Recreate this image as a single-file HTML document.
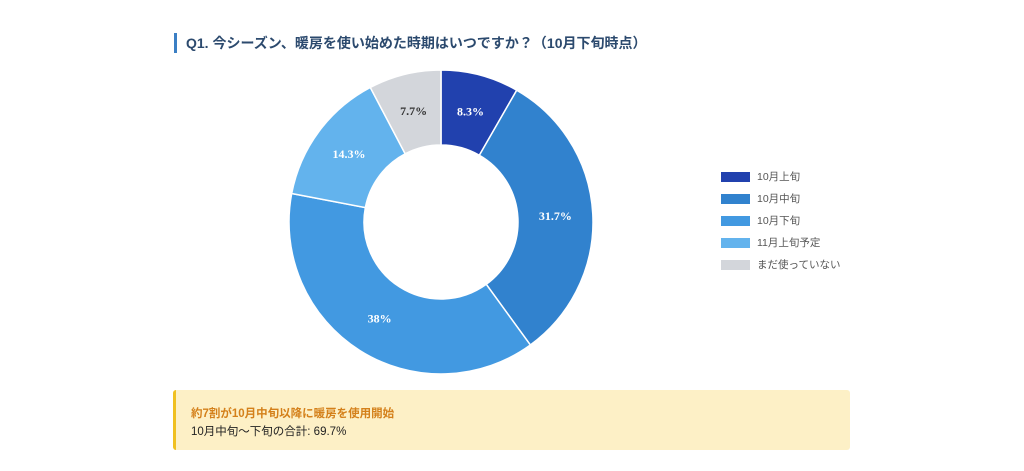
<!DOCTYPE html>
<html><head><meta charset="utf-8"><style>
body{margin:0;width:1024px;height:471px;background:#fff;font-family:"Liberation Sans","Noto Sans CJK JP",sans-serif;position:relative;overflow:hidden}
#title{position:absolute;left:174px;top:33px;height:20px;border-left:3px solid #3b7fc4;padding-left:9px;font-size:14px;font-weight:bold;color:#2c4a6e;line-height:20px}
.leg{position:absolute;left:721px;font-size:10.5px;color:#555;line-height:12px}
.leg span{display:inline-block;width:29px;height:10px;vertical-align:middle;margin-right:7px}
#box{position:absolute;left:173px;top:390px;width:674px;height:60px;background:#fdf0c6;border-left:3px solid #f0c020;border-radius:3px}
#b1{position:absolute;left:15px;top:15px;font-size:11.5px;font-weight:bold;color:#d4801a}
#b2{position:absolute;left:15px;top:33px;font-size:11.5px;color:#222}
</style></head><body>
<div id="title">Q1. 今シーズン、暖房を使い始めた時期はいつですか？（10月下旬時点）</div>
<svg id="chart" width="1024" height="471" style="position:absolute;left:0;top:0"></svg>
<div id="legend"></div>
<div id="box"><div id="b1">約7割が10月中旬以降に暖房を使用開始</div><div id="b2">10月中旬〜下旬の合計: 69.7%</div></div>
<script>
const categories=["10月上旬","10月中旬","10月下旬","11月上旬予定","まだ使っていない"];
const values=[8.3,31.7,38,14.3,7.7];
const labels=["8.3%","31.7%","38%","14.3%","7.7%"];
const colors=["#2141ae","#3182ce","#4299e1","#63b3ed","#d3d6db"];
const cx=441,cy=222,R=152,r=77,ns="http://www.w3.org/2000/svg";
const svg=document.getElementById('chart');
const total=values.reduce((a,b)=>a+b,0);
let a0=0;
function pt(rad,a){return [cx+rad*Math.sin(a),cy-rad*Math.cos(a)];}
values.forEach((v,i)=>{
 const a1=a0+v/total*2*Math.PI;
 const [x1,y1]=pt(R,a0),[x2,y2]=pt(R,a1),[x3,y3]=pt(r,a1),[x4,y4]=pt(r,a0);
 const lg=(a1-a0)>Math.PI?1:0;
 const p=document.createElementNS(ns,'path');
 p.setAttribute('d',`M${x1},${y1}A${R},${R} 0 ${lg} 1 ${x2},${y2}L${x3},${y3}A${r},${r} 0 ${lg} 0 ${x4},${y4}Z`);
 p.setAttribute('fill',colors[i]);p.setAttribute('stroke','#fff');p.setAttribute('stroke-width','1.5');
 
 
 svg.appendChild(p);
 const [tx,ty]=pt((R+r)/2,(a0+a1)/2);
 const t=document.createElementNS(ns,'text');
 t.setAttribute('x',tx);t.setAttribute('y',ty+4);t.setAttribute('text-anchor','middle');
 t.setAttribute('font-family','"Liberation Serif",serif');t.setAttribute('font-weight','bold');t.setAttribute('font-size','12');
 t.setAttribute('fill',i==4?'#333':'#fff');t.textContent=labels[i];
 
 
 svg.appendChild(t);
 a0=a1;
});
const lg=document.getElementById('legend');
categories.forEach((c,i)=>{
 const d=document.createElement('div');d.className='leg';d.style.top=(171+i*22)+'px';
 d.innerHTML=`<span style="background:${colors[i]}"></span>${c}`;
 
 
 lg.appendChild(d);
});
</script>
</body></html>
